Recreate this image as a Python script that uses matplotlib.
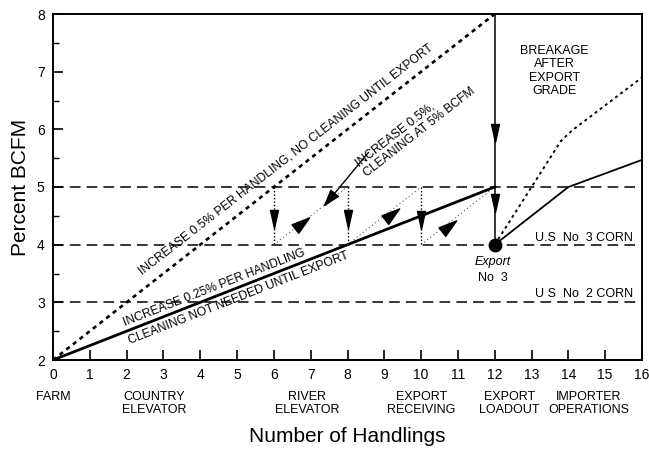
"""Percent BCFM vs number of handlings, with and without cleaning."""
import numpy as np
import matplotlib
matplotlib.use('Agg')
import matplotlib.pyplot as plt
from matplotlib.path import Path
from matplotlib.markers import MarkerStyle
from matplotlib.transforms import Affine2D

plt.rcParams['font.family'] = ['Liberation Sans', 'DejaVu Sans']

# --- data ---
no_clean_x = [0, 12]
no_clean_y = [2, 8]            # +0.5% per handling, no cleaning
quarter_x = [0, 12]
quarter_y = [2, 5]             # +0.25% per handling
saw_x = [6, 8, 10]             # cleaning back to 4% at these handlings
saw_top, saw_bottom = 5, 4
export_x = 12
import_x = [12, 14, 16]
import_solid_y = [4, 5, 5.47]
import_dot_x = [12, 13.8, 14.1, 16]
import_dot_y = [4, 5.8, 5.98, 6.9]
grade_levels = [5, 4, 3]
grade_ends = [15.8, 15.8, 16]

drop_arrow_y = [4.45, 4.45, 4.42]      # down heads on the cleaning drops
export_arrow_y = [5.94, 4.73]          # down heads on the export drop
wedge_x = [6.77, 9.21, 10.76]
wedge_y = [4.37, 4.53, 4.32]

stage_x = [0, 2.75, 6.9, 10.0, 12.4, 14.55]
stage_labels = ['FARM', 'COUNTRY\nELEVATOR', 'RIVER\nELEVATOR',
                'EXPORT\nRECEIVING', 'EXPORT\nLOADOUT', 'IMPORTER\nOPERATIONS']


def head(angle, width=0.22):
    verts = [(0.5, 0), (-0.5, width), (-0.5, -width), (0.5, 0)]
    p = Path(verts, [Path.MOVETO, Path.LINETO, Path.LINETO, Path.CLOSEPOLY])
    return MarkerStyle(p, transform=Affine2D().rotate_deg(angle))


fig = plt.figure(figsize=(6.49, 4.49), dpi=100)
ax = fig.add_axes([53 / 649, 1 - 360 / 449, 589 / 649, 346 / 449])

# grade limits
for lev, end in zip(grade_levels, grade_ends):
    ax.plot([0, end], [lev, lev], color='k', lw=1.1, ls=(0, (7, 4)))

# main lines
ax.plot(no_clean_x, no_clean_y, color='k', lw=1.9, ls=(0, (1.6, 1.6)))
ax.plot(quarter_x, quarter_y, color='k', lw=2.0)

# cleaning sawtooth
for x in saw_x:
    ax.plot([x, x], [saw_top, saw_bottom], color='k', lw=1.0, ls=(0, (1, 1.5)))
    ax.plot([x, x + 2], [saw_bottom, saw_top], color='0.35', lw=0.8, ls=(0, (1, 2.5)))
for x, y in zip(saw_x, drop_arrow_y):
    ax.plot(x, y, marker=head(-90), ms=13, color='k', ls='none')
for x, y in zip(wedge_x, wedge_y):
    ax.plot(x, y, marker=head(38, 0.3), ms=13, color='k', ls='none')

# export drop
ax.plot([export_x, export_x], [8, 4], color='k', lw=1.1)
for y in export_arrow_y:
    ax.plot(export_x, y, marker=head(-90), ms=13, color='k', ls='none')
ax.plot(export_x, 4, marker='o', ms=9, color='k', zorder=5)

# after export
ax.plot(import_x, import_solid_y, color='k', lw=1.3)
ax.plot(import_dot_x, import_dot_y, color='k', lw=1.4, ls=(0, (1.5, 1.8)))

# annotations
ax.annotate('', xy=(7.34, 4.65), xytext=(8.57, 5.6),
            arrowprops=dict(arrowstyle='-|>,head_length=0.8,head_width=0.25',
                            lw=1.0, color='k', shrinkA=0, shrinkB=0,
                            mutation_scale=14))
ax.text(6.33, 5.48, 'INCREASE 0.5% PER HANDLING, NO CLEANING UNTIL EXPORT',
        rotation=37.8, fontsize=8.7, ha='center', va='center')
ax.text(9.85, 6.04, 'INCREASE 0.5%,\nCLEANING AT 5% BCFM', rotation=38,
        fontsize=8.7, ha='center', va='center', ma='left', linespacing=1.1)
ax.text(4.38, 3.26, 'INCREASE 0.25% PER HANDLING', rotation=21.4,
        fontsize=8.7, ha='center', va='center')
ax.text(5.03, 3.07, 'CLEANING NOT NEEDED UNTIL EXPORT', rotation=21.4,
        fontsize=8.7, ha='center', va='center')
ax.text(13.62, 7.01, 'BREAKAGE\nAFTER\nEXPORT\nGRADE', fontsize=9,
        ha='center', va='center', linespacing=1.15)
ax.text(11.95, 3.70, 'Export', fontsize=9, style='italic', ha='center', va='center')
ax.text(11.95, 3.42, 'No  3', fontsize=9, ha='center', va='center')
ax.text(15.76, 4.11, 'U.S  No  3 CORN', fontsize=9, ha='right', va='center')
ax.text(15.76, 3.14, 'U S  No  2 CORN', fontsize=9, ha='right', va='center')

# axes
ax.set_xlim(0, 16)
ax.set_ylim(2, 8)
ax.set_xticks(range(0, 17))
ax.set_yticks(range(2, 9))
ax.set_yticks(np.arange(2.5, 8, 1), minor=True)
ax.tick_params(direction='in', length=7, width=1.2, labelsize=10, pad=6)
ax.tick_params(axis='y', which='minor', direction='in', length=4, width=1.0)
for s in ax.spines.values():
    s.set_linewidth(1.4)

for x, lab in zip(stage_x, stage_labels):
    ax.text(x, -0.09, lab, transform=ax.get_xaxis_transform(), fontsize=9,
            ha='center', va='top', linespacing=1.1)
ax.text(0.5, -0.2225, 'Number of Handlings', transform=ax.transAxes,
        fontsize=15, ha='center', va='center')
ax.text(-0.056, 0.5, 'Percent BCFM', transform=ax.transAxes, rotation=90,
        fontsize=15, ha='center', va='center')

fig.savefig('out.png', dpi=100)
